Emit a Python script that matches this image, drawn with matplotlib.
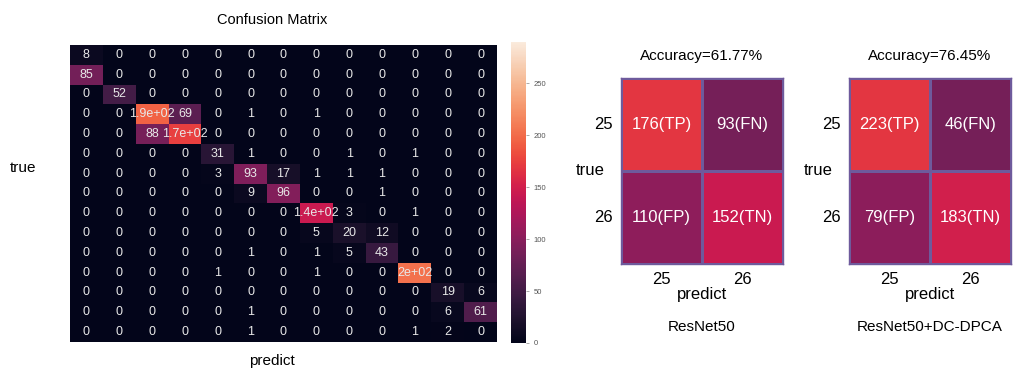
import matplotlib.pyplot as plt
import seaborn as sns
import numpy as np

plt.rcParams['font.family'] = ['Liberation Sans', 'DejaVu Sans']

# multi-class confusion matrix (rows: true, cols: predict)
cm_rows = [
    [8, 0, 0, 0, 0, 0, 0, 0, 0, 0, 0, 0, 0],
    [85, 0, 0, 0, 0, 0, 0, 0, 0, 0, 0, 0, 0],
    [0, 52, 0, 0, 0, 0, 0, 0, 0, 0, 0, 0, 0],
    [0, 0, 194, 69, 0, 1, 0, 1, 0, 0, 0, 0, 0],
    [0, 0, 88, 174, 0, 0, 0, 0, 0, 0, 0, 0, 0],
    [0, 0, 0, 0, 31, 1, 0, 0, 1, 0, 1, 0, 0],
    [0, 0, 0, 0, 3, 93, 17, 1, 1, 1, 0, 0, 0],
    [0, 0, 0, 0, 0, 9, 96, 0, 0, 1, 0, 0, 0],
    [0, 0, 0, 0, 0, 0, 0, 144, 3, 0, 1, 0, 0],
    [0, 0, 0, 0, 0, 0, 0, 5, 20, 12, 0, 0, 0],
    [0, 0, 0, 0, 0, 1, 0, 1, 5, 43, 0, 0, 0],
    [0, 0, 0, 0, 1, 0, 0, 1, 0, 0, 203, 0, 0],
    [0, 0, 0, 0, 0, 0, 0, 0, 0, 0, 0, 19, 6],
    [0, 0, 0, 0, 0, 1, 0, 0, 0, 0, 0, 6, 61],
    [0, 0, 0, 0, 0, 1, 0, 0, 0, 0, 1, 2, 0],
]

# binary results for classes 25 / 26
binary_classes = ['25', '26']
resnet_cm = [[176, 93], [110, 152]]
dpca_cm = [[223, 46], [79, 183]]
cell_tags = [['TP', 'FN'], ['FP', 'TN']]
model_names = ['ResNet50', 'ResNet50+DC-DPCA']
accuracies = [61.77, 76.45]

fig = plt.figure(figsize=(10.19, 3.69), dpi=100)

ax = fig.add_axes([0.0687, 0.0732, 0.419, 0.805])
cax = fig.add_axes([0.5015, 0.0705, 0.0147, 0.816])
sns.heatmap(np.array(cm_rows), annot=True, fmt='.2g', cmap='rocket',
            vmin=0, vmax=290, ax=ax, cbar_ax=cax,
            xticklabels=False, yticklabels=False,
            annot_kws={'fontsize': 9, 'color': '#e8e8e8'})
ax.tick_params(length=0)
cax.tick_params(labelsize=5.5, labelcolor='#555555', length=2, width=0.5,
                color='#888888')
fig.text(272 / 1019, 1 - 20 / 369, 'Confusion Matrix', ha='center',
         va='center', fontsize=10.5)
fig.text(23 / 1019, 1 - 168 / 369, 'true', ha='center', va='center',
         fontsize=11)
fig.text(272 / 1019, 1 - 361 / 369, 'predict', ha='center', va='center',
         fontsize=11)

# per-panel colour limits for the 2x2 matrices
panel_lims = [(5, 300), (-143, 488)]
panel_left = [621 / 1019, 849 / 1019]

for i, mat in enumerate([resnet_cm, dpca_cm]):
    pax = fig.add_axes([panel_left[i], 0.2846, 0.159, 0.504])
    labels = [[f'{mat[r][c]}({cell_tags[r][c]})' for c in range(2)]
              for r in range(2)]
    sns.heatmap(np.array(mat), annot=np.array(labels), fmt='', cmap='rocket',
                vmin=panel_lims[i][0], vmax=panel_lims[i][1], cbar=False,
                linewidths=1, linecolor='#6e5a9c', ax=pax,
                xticklabels=binary_classes, yticklabels=binary_classes,
                annot_kws={'fontsize': 12, 'color': 'white'})
    for sp in pax.spines.values():
        sp.set_visible(True)
        sp.set_color('#6e5a9c')
        sp.set_linewidth(1)
    pax.tick_params(length=0, labelsize=12, pad=6)
    pax.set_yticklabels(binary_classes, rotation=0)
    pax.set_title(f'Accuracy={accuracies[i]:.2f}%', fontsize=11, pad=13)
    pax.set_xlabel('predict', fontsize=12, labelpad=0)
    pax.set_ylabel('true', fontsize=12, rotation=0, va='center', ha='center')
    pax.yaxis.set_label_coords(-0.19, 0.5)
    pax.text(0.5, -0.34, model_names[i], transform=pax.transAxes,
             ha='center', va='center', fontsize=11)

fig.savefig('out.png', dpi=100)
